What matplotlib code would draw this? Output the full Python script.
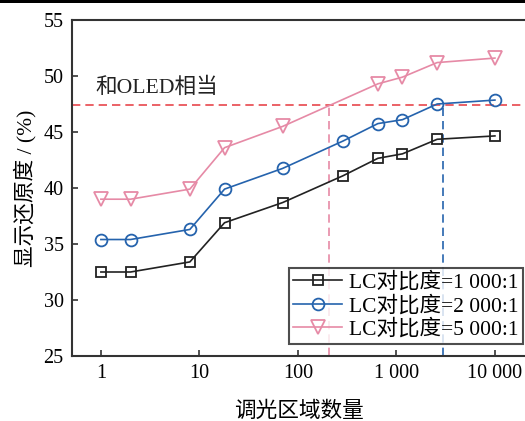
import matplotlib
matplotlib.use("Agg")
import matplotlib.pyplot as plt
from matplotlib.patches import Rectangle

plt.rcParams['font.family'] = ['Liberation Serif', 'Noto Sans CJK SC']
plt.rcParams['mathtext.fontset'] = 'stix'

x_black = [1, 2, 8, 18, 70, 288, 648, 1152, 2592, 10000]
y_black = [32.5, 32.5, 33.4, 36.9, 38.7, 41.1, 42.65, 43.05, 44.35, 44.65]
x_blue = [1, 2, 8, 18, 70, 288, 648, 1152, 2592, 10000]
y_blue = [35.4, 35.4, 36.3, 39.9, 41.75, 44.2, 45.75, 46.1, 47.5, 47.85]
x_pink = [1, 2, 8, 18, 70, 648, 1152, 2592, 10000]
y_pink = [39.0, 39.0, 39.9, 43.6, 45.5, 49.3, 49.9, 51.2, 51.6]
labels = ['LC对比度=1 000:1', 'LC对比度=2 000:1', 'LC对比度=5 000:1']
oled_level = 47.4
x_pink_cross = 205
x_blue_cross = 2950
xticks = [1, 10, 100, 1000, 10000]
xticklabels = ['1', '10', '100', '1 000', '10 000']
yticks = [25, 30, 35, 40, 45, 50, 55]

c_black = '#222222'
c_blue = '#2563ad'
c_pink = '#e68aa6'
c_red = '#e8474d'

fig = plt.figure(figsize=(5.25, 4.21), dpi=100)
ax = fig.add_axes([0.137, 0.1544, 0.863, 0.7981])

ax.axhline(oled_level, color=c_red, lw=1.2, ls=(0, (5, 3)), zorder=1)
ax.plot([x_pink_cross, x_pink_cross], [25, oled_level], color=c_pink, lw=1.2, ls=(0, (5, 3)), zorder=1)
ax.plot([x_blue_cross, x_blue_cross], [25, oled_level], color=c_blue, lw=1.2, ls=(0, (5, 3)), zorder=1)

ax.plot(x_black, y_black, color=c_black, lw=1.2, marker='s', ms=7.5, mfc='none', mew=1.3, label=labels[0], zorder=3)
ax.plot(x_blue, y_blue, color=c_blue, lw=1.2, marker='o', ms=8.5, mfc='none', mew=1.3, label=labels[1], zorder=3)
ax.plot(x_pink, y_pink, color=c_pink, lw=1.2, marker='v', ms=10.5, mfc='none', mew=1.3, label=labels[2], zorder=3)

ax.set_xscale('log')
ax.set_xlim(0.508, 20200)
ax.set_ylim(25, 55)
ax.set_xticks(xticks)
ax.set_xticklabels(xticklabels)
ax.set_yticks(yticks)
ax.minorticks_off()
ax.tick_params(direction='in', length=4, width=1.2, labelsize=14.5, color='#333333', pad=6)
for s in ['left', 'bottom', 'top']:
    ax.spines[s].set_linewidth(1.5)
    ax.spines[s].set_color('#333333')
ax.spines['right'].set_visible(False)

ax.text(0.87, 49.0, '和OLED相当', fontsize=15.6, va='center', ha='left', color='#222222')

ax.set_xlabel('调光区域数量', fontsize=15.6, labelpad=13)
ax.set_ylabel('显示还原度 / (%)', fontsize=15.6, labelpad=5)

leg = ax.legend(loc='lower right', bbox_to_anchor=(0.995, 0.035), fontsize=15.5, frameon=True,
                fancybox=False, edgecolor='#222222', handlelength=2.3, handletextpad=0.3,
                borderpad=0.2, labelspacing=0.14, borderaxespad=0)
leg.get_frame().set_linewidth(1.5)

fig.patches.append(Rectangle((0, 1 - 3 / 421), 1, 3 / 421, transform=fig.transFigure,
                             facecolor='black', edgecolor='none'))

fig.savefig('out.png', dpi=100)
